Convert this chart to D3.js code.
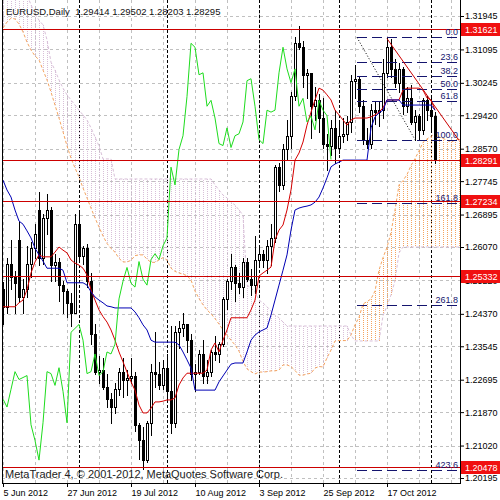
<!DOCTYPE html>
<html>
<head>
<meta charset="utf-8">
<script src="https://cdn.jsdelivr.net/npm/d3@7/dist/d3.min.js"></script>
<style>
  body { margin: 0; background: #fff; }
  svg { display: block; }
  text { font-family: "Liberation Sans", Arial, sans-serif; }
</style>
</head>
<body>
<svg width="500" height="500"></svg>
<script>
// EURUSD daily bars, 5 Jun 2012 .. 2 Nov 2012 (index 0 .. 108)
const opens = [
  1.2500,1.2455,1.2565,1.2530,1.2625,1.2480,1.2500,1.2565,1.2605,1.2700,
  1.2580,1.2680,1.2700,1.2560,1.2570,1.2510,1.2495,1.2465,1.2440,1.2665,
  1.2585,1.2605,1.2520,1.2385,1.2290,1.2295,1.2250,1.2220,1.2200,1.2245,
  1.2290,1.2270,1.2275,1.2280,1.2155,1.2115,1.2065,1.2160,1.2290,1.2285,
  1.2255,1.2300,1.2240,1.2160,1.2390,1.2400,1.2410,1.2370,1.2285,1.2290,
  1.2335,1.2280,1.2290,1.2340,1.2335,1.2360,1.2475,1.2520,1.2555,1.2515,
  1.2505,1.2570,1.2525,1.2510,1.2575,1.2590,1.2575,1.2610,1.2630,1.2810,
  1.2765,1.2855,1.2890,1.2990,1.3125,1.3115,1.3045,1.3050,1.2965,1.2980,
  1.2935,1.2870,1.2865,1.2910,1.2860,1.2890,1.2895,1.2925,1.3030,1.3035,
  1.2965,1.2880,1.2870,1.2955,1.2950,1.2955,1.3050,1.3115,1.3060,1.3025,
  1.3060,1.2965,1.2985,1.2925,1.2940,1.2905,1.2980,1.2955,1.29414
];
const highs = [
  1.2518,1.2580,1.2625,1.2545,1.2670,1.2525,1.2610,1.2620,1.2665,1.2748,
  1.2690,1.2743,1.2710,1.2590,1.2580,1.2520,1.2500,1.2490,1.2692,1.2693,
  1.2610,1.2615,1.2540,1.2410,1.2330,1.2325,1.2285,1.2235,1.2260,1.2300,
  1.2325,1.2295,1.2325,1.2290,1.2160,1.2150,1.2165,1.2310,1.2390,1.2315,
  1.2320,1.2335,1.2405,1.2405,1.2420,1.2440,1.2410,1.2385,1.2310,1.2345,
  1.2370,1.2320,1.2345,1.2380,1.2365,1.2480,1.2525,1.2590,1.2560,1.2540,
  1.2580,1.2580,1.2550,1.2635,1.2610,1.2600,1.2625,1.2665,1.2815,1.2820,
  1.2870,1.2930,1.3000,1.3140,1.3170,1.3130,1.3060,1.3050,1.3015,1.2995,
  1.2985,1.2895,1.2930,1.2955,1.2930,1.2935,1.2940,1.3045,1.3070,1.3040,
  1.2980,1.2910,1.2970,1.2975,1.2975,1.3085,1.3140,1.3137,1.3085,1.3075,
  1.3065,1.3015,1.3020,1.2955,1.2945,1.2985,1.2990,1.2990,1.29502
];
const lows = [
  1.2410,1.2440,1.2500,1.2440,1.2470,1.2440,1.2480,1.2530,1.2580,1.2560,
  1.2565,1.2640,1.2520,1.2520,1.2470,1.2440,1.2430,1.2405,1.2440,1.2570,
  1.2565,1.2505,1.2360,1.2285,1.2260,1.2245,1.2200,1.2160,1.2185,1.2230,
  1.2225,1.2230,1.2260,1.2140,1.2067,1.2042,1.2060,1.2130,1.2250,1.2245,
  1.2245,1.2220,1.2133,1.2150,1.2350,1.2380,1.2340,1.2270,1.2240,1.2285,
  1.2260,1.2260,1.2280,1.2320,1.2315,1.2355,1.2450,1.2500,1.2470,1.2490,
  1.2480,1.2520,1.2485,1.2490,1.2560,1.2555,1.2540,1.2560,1.2620,1.2750,
  1.2755,1.2830,1.2860,1.2980,1.3110,1.3015,1.2985,1.2885,1.2930,1.2900,
  1.2860,1.2802,1.2840,1.2820,1.2845,1.2875,1.2880,1.2900,1.2985,1.2950,
  1.2870,1.2860,1.2860,1.2920,1.2915,1.2935,1.3040,1.3040,1.3015,1.3000,
  1.2945,1.2950,1.2920,1.2880,1.2880,1.2895,1.2930,1.2905,1.28203
];
const closes = [
  1.2455,1.2565,1.2530,1.2515,1.2480,1.2500,1.2565,1.2605,1.2640,1.2580,
  1.2680,1.2700,1.2560,1.2570,1.2510,1.2495,1.2465,1.2440,1.2665,1.2585,
  1.2605,1.2520,1.2385,1.2290,1.2295,1.2250,1.2220,1.2200,1.2245,1.2290,
  1.2270,1.2275,1.2280,1.2155,1.2115,1.2065,1.2160,1.2290,1.2285,1.2255,
  1.2300,1.2240,1.2160,1.2390,1.2400,1.2410,1.2370,1.2285,1.2290,1.2335,
  1.2280,1.2290,1.2340,1.2335,1.2360,1.2475,1.2520,1.2555,1.2515,1.2505,
  1.2570,1.2525,1.2510,1.2575,1.2590,1.2575,1.2610,1.2630,1.2810,1.2765,
  1.2855,1.2890,1.2990,1.3125,1.3115,1.3045,1.3050,1.2965,1.2980,1.2935,
  1.2870,1.2865,1.2910,1.2860,1.2890,1.2895,1.2925,1.3030,1.3035,1.2965,
  1.2880,1.2870,1.2955,1.2950,1.2955,1.3050,1.3115,1.3060,1.3025,1.3060,
  1.2965,1.2985,1.2925,1.2940,1.2905,1.2980,1.2955,1.2941,1.28295
];

// Ichimoku lines
const tenkan = [
  1.2455,1.2455,1.2455,1.2455,1.2465,1.2472,1.2498,1.2541,1.2569,1.2587,
  1.2582,1.2582,1.2582,1.2594,1.2607,1.2599,1.2592,1.2574,1.2566,1.2561,
  1.2553,1.2536,1.2498,1.2472,1.2447,1.2430,1.2416,1.2396,1.2370,1.2340,
  1.2315,1.2289,1.2264,1.2243,1.2205,1.2185,1.2185,1.2197,1.2213,1.2213,
  1.2215,1.2218,1.2218,1.2223,1.2256,1.2274,1.2286,1.2286,1.2286,1.2286,
  1.2286,1.2294,1.2345,1.2363,1.2340,1.2370,1.2396,1.2427,1.2427,1.2427,
  1.2427,1.2427,1.2447,1.2472,1.2533,1.2541,1.2548,1.2556,1.2625,1.2650,
  1.2663,1.2701,1.2752,1.2828,1.2846,1.2874,1.2917,1.2950,1.2981,1.3011,
  1.3006,1.2994,1.2981,1.2955,1.2943,1.2930,1.2917,1.2930,1.2935,1.2935,
  1.2935,1.2935,1.2938,1.2943,1.2950,1.2961,1.2981,1.2981,1.2981,1.2981,
  1.3006,1.3011,1.3011,1.3011,1.3011,1.3006,1.2986,1.2981,1.2955
];
const kijun = [
  1.2777,1.2752,1.2734,1.2701,1.2673,1.2665,1.2648,1.2630,1.2604,1.2587,
  1.2571,1.2553,1.2553,1.2553,1.2553,1.2548,1.2516,1.2516,1.2516,1.2516,
  1.2516,1.2510,1.2493,1.2480,1.2472,1.2465,1.2457,1.2455,1.2452,1.2452,
  1.2452,1.2452,1.2452,1.2442,1.2427,1.2409,1.2396,1.2370,1.2365,1.2365,
  1.2365,1.2365,1.2365,1.2365,1.2358,1.2340,1.2320,1.2299,1.2243,1.2243,
  1.2243,1.2243,1.2243,1.2243,1.2264,1.2279,1.2294,1.2309,1.2312,1.2312,
  1.2312,1.2340,1.2370,1.2383,1.2391,1.2396,1.2401,1.2434,1.2472,1.2510,
  1.2548,1.2587,1.2650,1.2701,1.2706,1.2709,1.2711,1.2714,1.2721,1.2734,
  1.2757,1.2783,1.2811,1.2818,1.2823,1.2828,1.2828,1.2828,1.2828,1.2828,
  1.2828,1.2828,1.2910,1.2938,1.2948,1.2955,1.2981,1.2981,1.2981,1.2981,
  1.2968,1.2968,1.2968,1.2968,1.2968,1.2968,1.2968,1.2968,1.2955
];
// cloud spans run 6 bars past the last candle (index 0 .. 114)
const senkouA = [
  1.3164,1.3179,1.3189,1.3187,1.3174,1.3154,1.3128,1.3108,1.3093,1.3083,
  1.3057,1.3032,1.3001,1.2968,1.2935,1.2900,1.2864,1.2833,1.2808,1.2785,
  1.2757,1.2732,1.2706,1.2681,1.2658,1.2635,1.2616,1.2603,1.2594,1.2578,
  1.2569,1.2569,1.2573,1.2585,1.2587,1.2587,1.2576,1.2568,1.2568,1.2574,
  1.2580,1.2574,1.2553,1.2545,1.2541,1.2538,1.2534,1.2523,1.2495,1.2476,
  1.2460,1.2447,1.2437,1.2425,1.2411,1.2396,1.2383,1.2370,1.2358,1.2342,
  1.2316,1.2297,1.2290,1.2284,1.2289,1.2289,1.2290,1.2292,1.2292,1.2294,
  1.2307,1.2307,1.2303,1.2293,1.2281,1.2281,1.2284,1.2286,1.2299,1.2303,
  1.2302,1.2325,1.2345,1.2368,1.2369,1.2369,1.2369,1.2383,1.2409,1.2428,
  1.2462,1.2468,1.2475,1.2495,1.2548,1.2580,1.2606,1.2644,1.2701,1.2765,
  1.2776,1.2791,1.2814,1.2832,1.2851,1.2873,1.2882,1.2888,1.2896,1.2887,
  1.2883,1.2879,1.2873,1.2879,1.2882
];
const senkouB = [
  1.3248,1.3248,1.3248,1.3248,1.3248,1.3248,1.3248,1.3223,1.3200,1.3184,
  1.3172,1.3134,1.3077,1.3057,1.3032,1.3011,1.2994,1.2981,1.2968,1.2955,
  1.2943,1.2930,1.2910,1.2887,1.2864,1.2831,1.2831,1.2831,1.2780,1.2780,
  1.2780,1.2780,1.2780,1.2780,1.2780,1.2780,1.2780,1.2780,1.2780,1.2780,
  1.2780,1.2780,1.2780,1.2780,1.2780,1.2780,1.2780,1.2780,1.2780,1.2780,
  1.2780,1.2780,1.2780,1.2765,1.2752,1.2739,1.2732,1.2721,1.2714,1.2701,
  1.2688,1.2510,1.2503,1.2493,1.2472,1.2465,1.2455,1.2444,1.2434,1.2427,
  1.2416,1.2406,1.2406,1.2406,1.2406,1.2406,1.2406,1.2406,1.2406,1.2406,
  1.2406,1.2406,1.2406,1.2406,1.2406,1.2406,1.2406,1.2383,1.2368,1.2368,
  1.2368,1.2368,1.2368,1.2368,1.2368,1.2432,1.2457,1.2485,1.2521,1.2592,
  1.2607,1.2607,1.2607,1.2607,1.2607,1.2607,1.2607,1.2607,1.2607,1.2607,
  1.2607,1.2607,1.2607,1.2607,1.2607
];
const chikouShift = 26;

const priceTicks = [1.31945,1.31095,1.30245,1.29420,1.28570,1.27745,1.26895,1.26070,
                    1.25220,1.24370,1.23545,1.22695,1.21870,1.21020,1.20195];
const dateTickIdx = [0, 16, 32, 48, 64, 80, 96];
const dateLabels = ["5 Jun 2012","27 Jun 2012","19 Jul 2012","10 Aug 2012","3 Sep 2012","25 Sep 2012","17 Oct 2012"];
const monthStarts = [19, 41, 64, 84, 107];   // 2 Jul, 1 Aug, 3 Sep, 1 Oct, 1 Nov
const levelLines = [1.31621, 1.28291, 1.27234, 1.25332, 1.20478];

const fibLevels = [0, 23.6, 38.2, 50, 61.8, 100, 161.8, 261.8, 423.6];
const fibLabels = ["0.0","23.6","38.2","50.0","61.8","100.0","161.8","261.8","423.6"];
const fibHigh = 1.3140, fibLow = 1.2880, fibStart = 88.5, fibEnd = 103;
const trendFrom = [96, 1.3137], trendTo = [114, 1.2878];

const title = "EURUSD,Daily  1.29414 1.29502 1.28203 1.28295";
const copyright = "MetaTrader 4, \u00a9 2001-2012, MetaQuotes Software Corp.";

const svg = d3.select("svg");
const plotLeft = 2, plotRight = 460, plotBottom = 483;

const x = d3.scaleLinear().domain([0, 108]).range([3, 435]);
const y = d3.scaleLinear().domain([1.20195, 1.31945]).range([478, 16]);
const px = v => Math.round(v) + 0.5;

svg.append("rect").attr("width", 500).attr("height", 500).attr("fill", "#fff");

svg.append("defs").append("clipPath").attr("id", "plot").append("rect")
    .attr("x", plotLeft).attr("y", 0)
    .attr("width", plotRight - plotLeft).attr("height", plotBottom);

const plot = svg.append("g").attr("clip-path", "url(#plot)");

// grid
const grid = plot.append("g")
    .attr("stroke", "#c0c0c0").attr("stroke-dasharray", "3,3")
    .attr("shape-rendering", "crispEdges");
grid.selectAll(".gh").data(priceTicks).join("line").attr("class", "gh")
    .attr("x1", plotLeft).attr("x2", plotRight)
    .attr("y1", d => px(y(d))).attr("y2", d => px(y(d)));
grid.selectAll(".gv").data(d3.range(0, 115, 8)).join("line").attr("class", "gv")
    .attr("x1", d => px(x(d))).attr("x2", d => px(x(d)))
    .attr("y1", 0).attr("y2", plotBottom);

// month separators
plot.append("g")
    .attr("stroke", "#000").attr("stroke-dasharray", "3,2")
    .attr("shape-rendering", "crispEdges")
    .selectAll("line").data(monthStarts).join("line")
    .attr("x1", d => px(x(d))).attr("x2", d => px(x(d)))
    .attr("y1", 0).attr("y2", plotBottom);

// cloud
const sandy = "#f4a460", thistle = "#d8bfd8";
plot.append("g")
    .attr("stroke-dasharray", "1,1")
    .attr("shape-rendering", "crispEdges")
    .selectAll("line").data(d3.range(senkouA.length)).join("line")
    .attr("x1", i => px(x(i))).attr("x2", i => px(x(i)))
    .attr("y1", i => y(senkouA[i])).attr("y2", i => y(senkouB[i]))
    .attr("stroke", i => senkouA[i] >= senkouB[i] ? sandy : thistle);

const seriesLine = d3.line().x((d, i) => x(i)).y(d => y(d));
plot.append("path").attr("d", seriesLine(senkouA))
    .attr("fill", "none").attr("stroke", sandy).attr("stroke-dasharray", "3,2");
plot.append("path").attr("d", seriesLine(senkouB))
    .attr("fill", "none").attr("stroke", thistle).attr("stroke-dasharray", "3,2");

// candles
const candles = plot.append("g").attr("shape-rendering", "crispEdges")
    .selectAll("g").data(d3.range(closes.length)).join("g");

candles.append("line")
    .attr("x1", i => px(x(i))).attr("x2", i => px(x(i)))
    .attr("y1", i => Math.round(y(highs[i])))
    .attr("y2", i => Math.round(y(lows[i])) + 1)
    .attr("stroke", "#000");

candles.each(function (i) {
    const g = d3.select(this);
    const cx = Math.round(x(i));
    const top = Math.round(y(Math.max(opens[i], closes[i])));
    const bot = Math.round(y(Math.min(opens[i], closes[i])));
    if (closes[i] < opens[i]) {
        g.append("rect").attr("x", cx - 1).attr("y", top)
            .attr("width", 3).attr("height", Math.max(1, bot - top + 1))
            .attr("fill", "#000");
    } else if (bot - top < 1) {
        g.append("rect").attr("x", cx - 1).attr("y", top)
            .attr("width", 3).attr("height", 1).attr("fill", "#000");
    } else {
        g.append("rect").attr("x", cx - 0.5).attr("y", top + 0.5)
            .attr("width", 2).attr("height", bot - top)
            .attr("fill", "#fff").attr("stroke", "#000");
    }
});

// tenkan, kijun, chikou
plot.append("path").attr("d", seriesLine(tenkan))
    .attr("fill", "none").attr("stroke", "#d40000");
plot.append("path").attr("d", seriesLine(kijun))
    .attr("fill", "none").attr("stroke", "#0000b4");
plot.append("path").attr("d", seriesLine(closes.slice(chikouShift)))
    .attr("fill", "none").attr("stroke", "#1edc1e");

// horizontal level lines
plot.append("g").attr("shape-rendering", "crispEdges")
    .selectAll("line").data(levelLines).join("line")
    .attr("x1", plotLeft).attr("x2", plotRight)
    .attr("y1", d => px(y(d))).attr("y2", d => px(y(d)))
    .attr("stroke", "#cc0000");

// fibonacci
const fibPrice = lv => fibHigh - (fibHigh - fibLow) * lv / 100;
const fib = plot.append("g");
fib.selectAll("line").data(fibLevels).join("line")
    .attr("x1", x(fibStart)).attr("x2", plotRight)
    .attr("y1", d => px(y(fibPrice(d)))).attr("y2", d => px(y(fibPrice(d))))
    .attr("stroke", "#14146e").attr("stroke-dasharray", "10,5")
    .attr("shape-rendering", "crispEdges");
fib.selectAll("text").data(fibLevels).join("text")
    .attr("x", 458).attr("y", d => Math.round(y(fibPrice(d))) - 2)
    .attr("text-anchor", "end").attr("font-size", 9).attr("fill", "#14146e")
    .text((d, k) => fibLabels[k]);
fib.append("line")
    .attr("x1", x(fibStart)).attr("y1", y(fibHigh))
    .attr("x2", x(fibEnd)).attr("y2", y(fibLow))
    .attr("stroke", "#000").attr("stroke-dasharray", "1,2");

// trend line
plot.append("line")
    .attr("x1", x(trendFrom[0])).attr("y1", y(trendFrom[1]))
    .attr("x2", x(trendTo[0])).attr("y2", y(trendTo[1]))
    .attr("stroke", "#cc0000");

// frame
const frame = svg.append("g").attr("stroke", "#000").attr("shape-rendering", "crispEdges");
frame.append("line").attr("x1", 2.5).attr("x2", 2.5).attr("y1", 0).attr("y2", 484);
frame.append("line").attr("x1", 460.5).attr("x2", 460.5).attr("y1", 0).attr("y2", 484);
frame.append("line").attr("x1", 2).attr("x2", 461).attr("y1", 483.5).attr("y2", 483.5);

// price axis
const yAxis = svg.append("g").attr("transform", `translate(${plotRight},0)`)
    .call(d3.axisRight(y).tickValues(priceTicks).tickFormat(d3.format(".5f"))
        .tickSize(4).tickPadding(1));
yAxis.select(".domain").remove();
yAxis.selectAll("text").attr("font-size", 9).attr("font-family", "Liberation Sans, Arial, sans-serif").attr("fill", "#000");

// red price boxes (drawn over the axis, as in the terminal)
const boxes = svg.append("g").selectAll("g").data(levelLines).join("g")
    .attr("transform", d => `translate(461,${Math.round(y(d))})`);
boxes.append("rect").attr("x", 0).attr("y", -6).attr("width", 39).attr("height", 13)
    .attr("fill", "#f01010");
boxes.append("text").attr("x", 4).attr("y", 0.5).attr("dy", "0.35em")
    .attr("font-size", 9).attr("fill", "#fff")
    .text(d => d3.format(".5f")(d));

// date axis
const xAxis = svg.append("g").attr("transform", `translate(0,${plotBottom})`)
    .call(d3.axisBottom(x).tickValues(dateTickIdx)
        .tickFormat((d, k) => dateLabels[k]).tickSize(4).tickPadding(3));
xAxis.select(".domain").remove();
xAxis.selectAll("text").attr("text-anchor", "start").attr("x", 0)
    .attr("font-size", 9).attr("font-family", "Liberation Sans, Arial, sans-serif").attr("fill", "#000");

// texts
svg.append("text").attr("x", 6).attr("y", 15)
    .attr("font-size", 9.5).attr("fill", "#111").attr("xml:space", "preserve")
    .style("white-space", "pre").text(title);
svg.append("text").attr("x", 5).attr("y", 478)
    .attr("font-size", 11).attr("fill", "#222").text(copyright);
</script>
</body>
</html>
